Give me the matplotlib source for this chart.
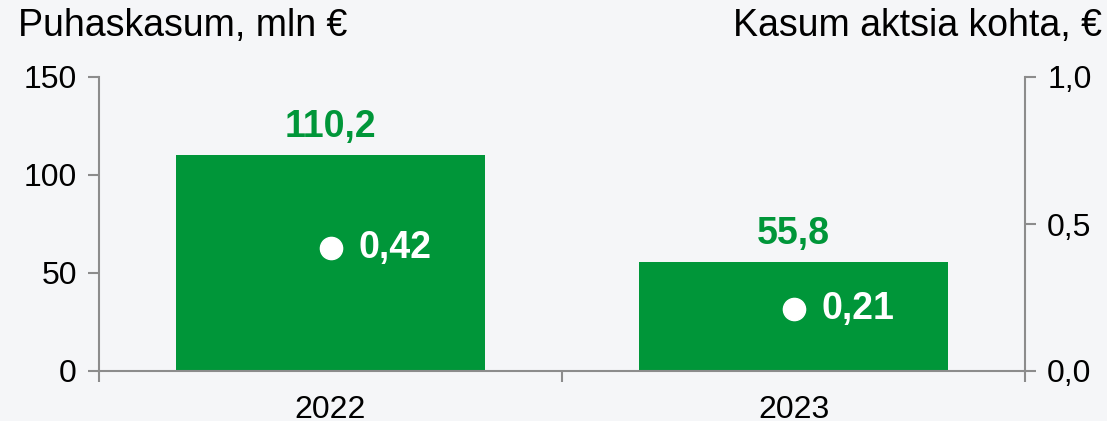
import matplotlib.pyplot as plt
import numpy as np

plt.rcParams['font.family'] = ['Liberation Sans', 'DejaVu Sans']

years = ["2022", "2023"]
net_profit = [110.2, 55.8]
eps = [0.42, 0.21]
profit_labels = ["110,2", "55,8"]
eps_labels = ["0,42", "0,21"]

green = "#009639"
grey = "#8c8c8c"
bg = "#f5f6f8"

fig = plt.figure(figsize=(11.07, 4.21), dpi=100, facecolor=bg)
ax = fig.add_axes([99 / 1107, 1 - 371 / 421, (1025 - 99) / 1107, (371 - 77) / 421])
ax.set_facecolor(bg)

x = np.arange(len(years))
ax.bar(x, net_profit, width=0.667, color=green, zorder=2)
for xi, v, lab in zip(x, net_profit, profit_labels):
    ax.annotate(lab, (xi, v), xytext=(0, 7), textcoords="offset points",
                ha="center", va="bottom", color=green, fontsize=27, fontweight="bold")

ax.set_xlim(-0.5, 1.5)
ax.set_ylim(0, 150)
ax.set_yticks([0, 50, 100, 150])
ax.set_xticks(x)
ax.set_xticklabels(years)
ax.set_xticks([-0.5, 0.5, 1.5], minor=True)
ax.tick_params(axis="x", which="major", length=0, labelsize=23, pad=17)
ax.tick_params(axis="x", which="minor", length=8, color=grey, width=1.5)
ax.tick_params(axis="y", length=8, color=grey, width=1.5, labelsize=23, pad=8)
for s in ["top", "right"]:
    ax.spines[s].set_visible(False)
for s in ["left", "bottom"]:
    ax.spines[s].set_color(grey)
    ax.spines[s].set_linewidth(1.5)

ax2 = ax.twinx()
ax2.set_ylim(0, 1.0)
ax2.set_yticks([0, 0.5, 1.0])
ax2.set_yticklabels(["0,0", "0,5", "1,0"])
ax2.tick_params(axis="y", length=8, color=grey, width=1.5, labelsize=23, pad=8)
for s in ["top", "left", "bottom"]:
    ax2.spines[s].set_visible(False)
ax2.spines["right"].set_color(grey)
ax2.spines["right"].set_linewidth(1.5)

ax2.plot(x, eps, linestyle="none", marker="o", markersize=16, color="white", zorder=3)
for xi, v, lab in zip(x, eps, eps_labels):
    ax2.annotate(lab, (xi, v), xytext=(20, 0), textcoords="offset points",
                 ha="left", va="center", color="white", fontsize=27, fontweight="bold")

fig.text(18 / 1107, 1 - 26 / 421, "Puhaskasum, mln €", fontsize=27, ha="left", va="center")
fig.text(1102 / 1107, 1 - 26 / 421, "Kasum aktsia kohta, €", fontsize=27, ha="right", va="center")

fig.savefig("out.png", dpi=100, facecolor=bg)
